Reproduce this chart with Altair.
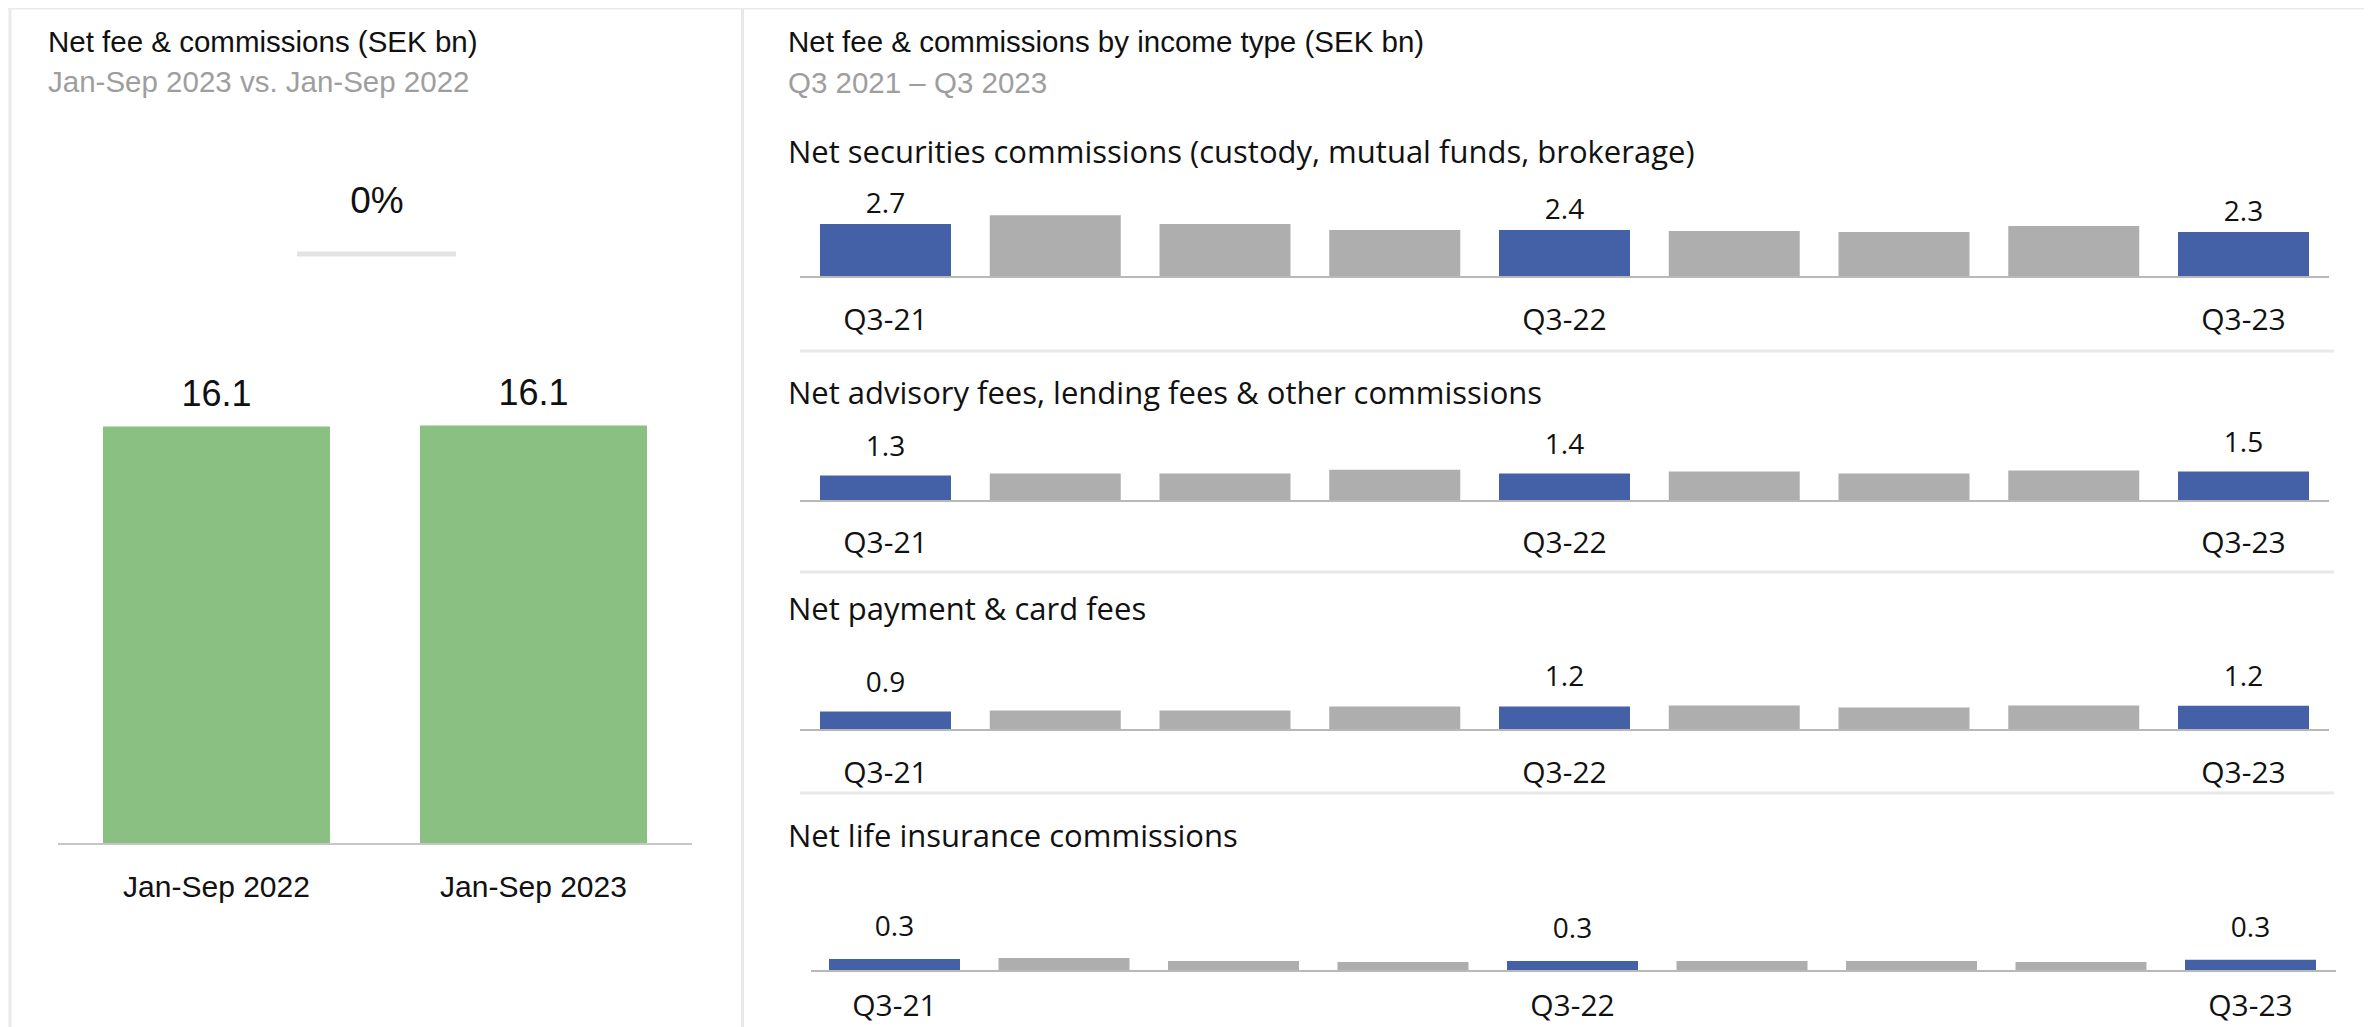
import altair as alt
import pandas as pd

# ---------------- data ----------------
ytd_periods = ["Jan-Sep 2022", "Jan-Sep 2023"]
ytd_values = [16.08, 16.12]

quarters = ["Q3-21", "Q4-21", "Q1-22", "Q2-22", "Q3-22", "Q4-22", "Q1-23", "Q2-23", "Q3-23"]
highlight_quarters = ["Q3-21", "Q3-22", "Q3-23"]

section_titles = [
    "Net securities commissions (custody, mutual funds, brokerage)",
    "Net advisory fees, lending fees & other commissions",
    "Net payment & card fees",
    "Net life insurance commissions",
]
securities = [2.7, 3.15, 2.7, 2.4, 2.4, 2.35, 2.3, 2.6, 2.3]
advisory = [1.3, 1.4, 1.4, 1.6, 1.4, 1.5, 1.4, 1.55, 1.5]
payment = [0.94, 1.0, 1.0, 1.2, 1.2, 1.25, 1.15, 1.25, 1.24]
life = [0.33, 0.36, 0.28, 0.25, 0.28, 0.28, 0.28, 0.25, 0.31]
section_values = [securities, advisory, payment, life]

left_title = "Net fee & commissions (SEK bn)"
left_subtitle = "Jan-Sep 2023 vs. Jan-Sep 2022"
right_title = "Net fee & commissions by income type (SEK bn)"
right_subtitle = "Q3 2021 \u2013 Q3 2023"

# ---------------- style ----------------
W, H = 2356, 1019
BLUE = "#4461A8"
GREY = "#AEAEAE"
GREEN = "#8AC082"
TEXT = "#111111"
SUB = "#9E9E9E"
FRAME = "#E9E9E9"
AXIS = "#B8B8B8"
SEP = "#E8E8E8"
TITLE_FONT = "Liberation Sans"
LABEL_FONT = "Open Sans"


def xdomain(c0, step):
    lo = -c0 / step
    return [lo, lo + W / step]


def ydomain(base, k):
    lo = -(H - base) / k
    return [lo, base / k]


def xscale(c0, step):
    return alt.Scale(domain=xdomain(c0, step), nice=False, zero=False, padding=0)


def yscale(base, k):
    return alt.Scale(domain=ydomain(base, k), nice=False, zero=False, padding=0)


def text_layer(txt, x, y, size, color=TEXT, font=TITLE_FONT, align="left"):
    return alt.Chart(pd.DataFrame({"t": [txt]})).mark_text(
        align=align, baseline="alphabetic", fontSize=size, font=font, color=color
    ).encode(x=alt.value(x), y=alt.value(y), text="t:N")


def hrule(x0, x1, y, color, width):
    return alt.Chart(pd.DataFrame({"a": [0]})).mark_rule(
        color=color, strokeWidth=width
    ).encode(x=alt.value(x0), x2=alt.value(x1), y=alt.value(y))


def vrule(x, y0, y1, color, width):
    return alt.Chart(pd.DataFrame({"a": [0]})).mark_rule(
        color=color, strokeWidth=width
    ).encode(x=alt.value(x), y=alt.value(y0), y2=alt.value(y1))


layers = []

# frame
layers.append(hrule(0, W, 0, FRAME, 3))
layers.append(vrule(2, 0, H, FRAME, 3))
layers.append(vrule(734.5, 0, H, FRAME, 3))

# ---------------- left panel ----------------
ldf = pd.DataFrame({
    "period": ytd_periods,
    "idx": list(range(len(ytd_periods))),
    "value": ytd_values,
})
ldf["label"] = ldf["value"].map(lambda v: f"{v:.1f}")
lx = xscale(208.5, 317)
ly = yscale(836, 25.96)
lbase = alt.Chart(ldf)
layers.append(lbase.mark_bar(width=227, color=GREEN).encode(
    x=alt.X("idx:Q", scale=lx, axis=None),
    y=alt.Y("value:Q", scale=ly, axis=None),
    y2=alt.datum(0),
))
layers.append(lbase.mark_text(fontSize=36, font=TITLE_FONT, color=TEXT,
                              baseline="alphabetic", dy=-21).encode(
    x=alt.X("idx:Q", scale=lx, axis=None),
    y=alt.Y("value:Q", scale=ly, axis=None),
    text="label:N",
))
layers.append(lbase.mark_text(fontSize=30, font=TITLE_FONT, color=TEXT,
                              baseline="alphabetic").encode(
    x=alt.X("idx:Q", scale=lx, axis=None),
    y=alt.value(889),
    text="period:N",
))
layers.append(alt.Chart(ldf).mark_rule(color="#C6C6C6", strokeWidth=2).encode(
    x=alt.value(50), x2=alt.value(684),
    y=alt.YDatum(0, scale=ly, axis=None),
))
change = (ytd_values[1] - ytd_values[0]) / ytd_values[0]
layers.append(text_layer(f"{change:.0%}", 369, 205, 37, align="center"))
layers.append(hrule(289, 448, 246, "#E3E3E3", 5))
layers.append(text_layer(left_title, 40, 44, 29.5))
layers.append(text_layer(left_subtitle, 40, 84, 29.5, color=SUB))

# ---------------- right panel ----------------
layers.append(text_layer(right_title, 780, 44, 29.5))
layers.append(text_layer(right_subtitle, 780, 85, 29.5, color=SUB))

# per-section layout (plot pixel coords)
sections = [
    dict(c0=877.5, step=169.75, ty=155, base=269, k=19.6, dy=-11, tick=322, sep=343, ax0=792, ax1=2321),
    dict(c0=877.5, step=169.75, ty=396, base=493, k=19.6, dy=-20, tick=545, sep=564, ax0=792, ax1=2321),
    dict(c0=877.5, step=169.75, ty=612, base=722, k=19.6, dy=-20, tick=775, sep=785, ax0=792, ax1=2321),
    dict(c0=886.5, step=169.5, ty=839, base=963, k=36.0, dy=-23, tick=1008, sep=None, ax0=803, ax1=2328),
]

for title, vals, s in zip(section_titles, section_values, sections):
    df = pd.DataFrame({"quarter": quarters, "idx": list(range(len(quarters))), "value": vals})
    df["hl"] = df["quarter"].isin(highlight_quarters)
    df["color"] = df["hl"].map({True: BLUE, False: GREY})
    df["label"] = df["value"].map(lambda v: f"{v:.1f}")
    xs = xscale(s["c0"], s["step"])
    ys = yscale(s["base"], s["k"])
    base = alt.Chart(df)
    layers.append(base.mark_bar(width=131).encode(
        x=alt.X("idx:Q", scale=xs, axis=None),
        y=alt.Y("value:Q", scale=ys, axis=None),
        y2=alt.datum(0),
        color=alt.Color("color:N", scale=None),
    ))
    hl = base.transform_filter(alt.datum.hl)
    layers.append(hl.mark_text(fontSize=28, font=LABEL_FONT, color=TEXT,
                               baseline="alphabetic", dy=s["dy"]).encode(
        x=alt.X("idx:Q", scale=xs, axis=None),
        y=alt.Y("value:Q", scale=ys, axis=None),
        text="label:N",
    ))
    layers.append(hl.mark_text(fontSize=30, font=LABEL_FONT, color=TEXT,
                               baseline="alphabetic").encode(
        x=alt.X("idx:Q", scale=xs, axis=None),
        y=alt.value(s["tick"]),
        text="quarter:N",
    ))
    layers.append(alt.Chart(df).mark_rule(color=AXIS, strokeWidth=2).encode(
        x=alt.value(s["ax0"]), x2=alt.value(s["ax1"]),
        y=alt.YDatum(0, scale=ys, axis=None),
    ))
    if s["sep"] is not None:
        layers.append(hrule(792, 2326, s["sep"], SEP, 3))
    layers.append(text_layer(title, 780, s["ty"], 31, font=LABEL_FONT))

chart = alt.layer(*layers).resolve_scale(
    x="independent", y="independent", color="independent"
).properties(
    width=W, height=H, padding=0, autosize=alt.AutoSizeParams(type="none")
).configure_view(stroke="transparent")

chart.save("out.html", embed_options={"renderer": "svg", "actions": False})
